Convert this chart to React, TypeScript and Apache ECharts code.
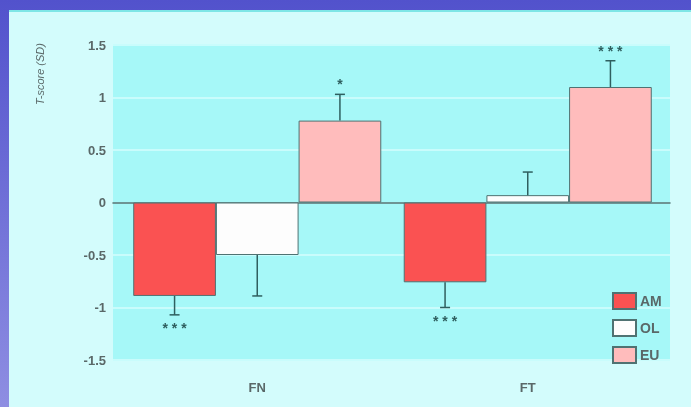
import React, { useEffect, useRef } from "react";
import * as echarts from "echarts";

const categories = ["FN", "FT"];
const seriesNames = ["AM", "OL", "EU"];
const amValues = [-0.89, -0.76];
const olValues = [-0.5, 0.07];
const euValues = [0.78, 1.1];
const amErrors = [0.18, 0.24];
const olErrors = [0.39, 0.22];
const euErrors = [0.25, 0.25];
const amStars = ["* * *", "* * *"];
const olStars = ["", ""];
const euStars = ["*", "* * *"];
const yTicks = [-1.5, -1, -0.5, 0, 0.5, 1, 1.5];

const colors = ["#fa5252", "#fdfdfd", "#ffbcbc"];
const GAP = 0.083;
const TEXT = "#5a6868";

export default function App() {
  const ref = useRef<HTMLDivElement>(null);
  useEffect(() => {
    if (!ref.current) return;
    const chart = echarts.init(ref.current, null, { renderer: "svg" });
    const values = [amValues, olValues, euValues];
    const errors = [amErrors, olErrors, euErrors];
    const stars = [amStars, olStars, euStars];

    const errData: number[][] = [];
    const errStars: string[] = [];
    values.forEach((vals, s) => {
      vals.forEach((v, c) => {
        errData.push([c, s, v, errors[s][c]]);
        errStars.push(stars[s][c]);
      });
    });

    const barSeries = seriesNames.map((name, s) => ({
      name,
      type: "bar",
      xAxisIndex: 1,
      yAxisIndex: 1,
      data: values[s],
      barGap: "0%",
      barCategoryGap: (GAP * 100).toFixed(1) + "%",
      itemStyle: { color: colors[s], borderColor: "#4f7272", borderWidth: 1 },
      z: 3,
    }));

    const yBase = {
      type: "value",
      min: yTicks[0],
      max: yTicks[yTicks.length - 1],
      interval: 0.5,
      axisLine: { show: false },
      axisTick: { show: false },
    };

    chart.setOption({
      animation: false,
      graphic: [
        {
          type: "rect",
          z: -10,
          shape: { x: 0, y: 0, width: 691, height: 407 },
          style: {
            fill: new echarts.graphic.LinearGradient(0, 0, 0, 1, [
              { offset: 0, color: "#5252cc" },
              { offset: 1, color: "#8e8ee2" },
            ]),
          },
        },
        {
          type: "rect",
          z: -9,
          shape: { x: 9, y: 10, width: 682, height: 397 },
          style: { fill: "#d3fcfc" },
        },
        {
          type: "rect",
          z: -9,
          shape: { x: 9, y: 10, width: 682, height: 2 },
          style: { fill: "#7ee6e6" },
        },
        {
          type: "text",
          x: 40,
          y: 74,
          rotation: Math.PI / 2,
          style: {
            text: "T-score (SD)",
            fontStyle: "italic",
            fontSize: 11,
            fontFamily: "Liberation Sans",
            fill: TEXT,
            textAlign: "center",
            textVerticalAlign: "middle",
          },
        },
      ],
      grid: [
        {
          left: 113,
          right: 21,
          top: 45,
          bottom: 47,
          show: true,
          backgroundColor: "#a6f8f8",
          borderWidth: 0,
        },
        {
          left: 122,
          right: 28,
          top: 45,
          bottom: 47,
          show: false,
        },
      ],
      legend: {
        orient: "vertical",
        data: seriesNames,
        left: 607,
        top: 287,
        itemWidth: 23,
        itemHeight: 16,
        itemGap: 9,
        icon: "rect",
        textStyle: {
          fontSize: 14,
          fontWeight: "bold",
          color: TEXT,
          fontFamily: "Liberation Sans Narrow, Liberation Sans",
          padding: [0, 0, 0, -1],
        },
      },
      xAxis: [
        {
          type: "category",
          gridIndex: 0,
          data: categories,
          axisLine: { lineStyle: { color: "#4f7272", width: 1.5 } },
          axisTick: { show: false },
          axisLabel: { show: false },
        },
        {
          type: "category",
          gridIndex: 1,
          data: categories,
          axisLine: { show: false },
          axisTick: { show: false },
          axisLabel: {
            margin: 21,
            fontSize: 13,
            fontWeight: "bold",
            color: TEXT,
            fontFamily: "Liberation Sans Narrow, Liberation Sans",
          },
        },
      ],
      yAxis: [
        {
          ...yBase,
          gridIndex: 0,
          splitLine: { lineStyle: { color: "#c9fcfc", width: 2 } },
          axisLabel: {
            fontSize: 13,
            fontWeight: "bold",
            color: TEXT,
            fontFamily: "Liberation Sans Narrow, Liberation Sans",
            margin: 7,
          },
        },
        {
          ...yBase,
          gridIndex: 1,
          splitLine: { show: false },
          axisLabel: { show: false },
        },
      ],
      series: [
        ...barSeries,
        {
          type: "custom",
          xAxisIndex: 1,
          yAxisIndex: 1,
          z: 4,
          encode: { x: 0, y: 2 },
          data: errData,
          renderItem: (params: any, api: any) => {
            const c = api.value(0);
            const s = api.value(1);
            const v = api.value(2);
            const e = api.value(3);
            const band = api.size([1, 0])[0];
            const bw = (band * (1 - GAP)) / 3;
            const base = api.coord([c, v]);
            const x = base[0] + (s - 1) * bw;
            const end = v >= 0 ? v + e : v - e;
            const p0 = api.coord([c, v]);
            const p1 = api.coord([c, end]);
            const dir = v >= 0 ? -1 : 1;
            const st = { stroke: "#2f5f5f", lineWidth: 1.5 };
            const children: any[] = [
              { type: "line", shape: { x1: x, y1: p0[1], x2: x, y2: p1[1] }, style: st },
              { type: "line", shape: { x1: x - 5, y1: p1[1], x2: x + 5, y2: p1[1] }, style: st },
            ];
            const t = errStars[params.dataIndex];
            if (t) {
              children.push({
                type: "text",
                x,
                y: p1[1] + dir * (v >= 0 ? 10 : 13),
                style: {
                  text: t,
                  fontSize: 14,
                  fontWeight: "bold",
                  fill: "#2f5f5f",
                  textAlign: "center",
                  textVerticalAlign: "middle",
                  fontFamily: "Liberation Sans",
                },
              });
            }
            return { type: "group", children };
          },
        },
      ],
    });
    return () => chart.dispose();
  }, []);
  return (
    <div
      ref={ref}
      style={{ position: "fixed", left: 0, top: 0, width: 691, height: 407 }}
    />
  );
}
